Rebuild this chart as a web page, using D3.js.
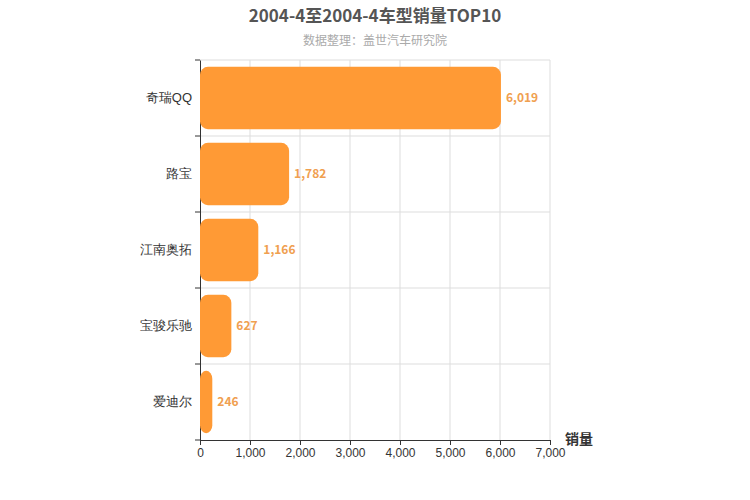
<!DOCTYPE html>
<html>
<head>
<meta charset="UTF-8">
<script src="https://cdn.jsdelivr.net/npm/d3@7"></script>
<style>body{margin:0;background:#fff;font-family:"Noto Sans CJK SC","Liberation Sans",sans-serif}</style>
</head>
<body>
<svg id="chart" width="750" height="500"></svg>
<script>
var models = ["奇瑞QQ", "路宝", "江南奥拓", "宝骏乐驰", "爱迪尔"];
var sales = [6019, 1782, 1166, 627, 246];
var xTicks = [0, 1000, 2000, 3000, 4000, 5000, 6000, 7000];

var svg = d3.select("#chart");
var m = {left: 200, right: 200, top: 60, bottom: 60};
var w = 750 - m.left - m.right, h = 500 - m.top - m.bottom;
var x = d3.scaleLinear().domain([0, 7000]).range([0, w]);
var y = d3.scaleBand().domain(models).range([0, h]).paddingInner(0.18).paddingOuter(0.09);
var band = d3.scaleBand().domain(models).range([0, h]);
var g = svg.append("g").attr("transform", "translate(" + m.left + "," + m.top + ")");

svg.append("text").attr("x", 375).attr("y", 22).attr("text-anchor", "middle")
  .attr("font-size", 17).attr("font-weight", "bold").attr("fill", "#555").text("2004-4至2004-4车型销量TOP10");
svg.append("text").attr("x", 375).attr("y", 45).attr("text-anchor", "middle")
  .attr("font-size", 12).attr("fill", "#aaa").text("数据整理：盖世汽车研究院");

// grid
g.selectAll(".vg").data(xTicks.slice(1)).enter().append("line")
  .attr("x1", x).attr("x2", x).attr("y1", 0).attr("y2", h).attr("stroke", "#ddd");
g.selectAll(".hg").data(models).enter().append("line")
  .attr("x1", 0).attr("x2", w).attr("y1", function(d) { return band(d); }).attr("y2", function(d) { return band(d); })
  .attr("stroke", "#ddd");

var ya = g.append("g").call(d3.axisLeft(band).tickSize(0).tickPadding(8));
ya.select(".domain").attr("stroke", "#333");
ya.selectAll("text").attr("font-size", 13).attr("fill", "#333");
g.selectAll(".yt").data(models.concat([null])).enter().append("line")
  .attr("x1", -5).attr("x2", 0)
  .attr("y1", function(d, i) { return i * band.bandwidth(); }).attr("y2", function(d, i) { return i * band.bandwidth(); })
  .attr("stroke", "#333");

var xa = g.append("g").attr("transform", "translate(0," + h + ")")
  .call(d3.axisBottom(x).tickValues(xTicks).tickFormat(d3.format(",")).tickSize(5));
xa.select(".domain").attr("stroke", "#333");
xa.selectAll("line").attr("stroke", "#333");
xa.selectAll("text").attr("font-size", 12).attr("fill", "#333");

svg.append("text").attr("x", 565).attr("y", 444).attr("font-size", 14).attr("font-weight", "bold")
  .attr("fill", "#333").text("销量");

g.selectAll(".bar").data(models).enter().append("rect")
  .attr("x", 0).attr("y", function(d) { return y(d); })
  .attr("width", function(d, i) { return x(sales[i]); }).attr("height", y.bandwidth())
  .attr("rx", 8).attr("fill", "#ff9a35");
g.selectAll(".lbl").data(models).enter().append("text")
  .attr("x", function(d, i) { return x(sales[i]) + 5; })
  .attr("y", function(d) { return y(d) + y.bandwidth() / 2 + 4; })
  .attr("font-size", 12).attr("font-weight", "bold").attr("fill", "#f0a050")
  .text(function(d, i) { return d3.format(",")(sales[i]); });
</script>
</body>
</html>
